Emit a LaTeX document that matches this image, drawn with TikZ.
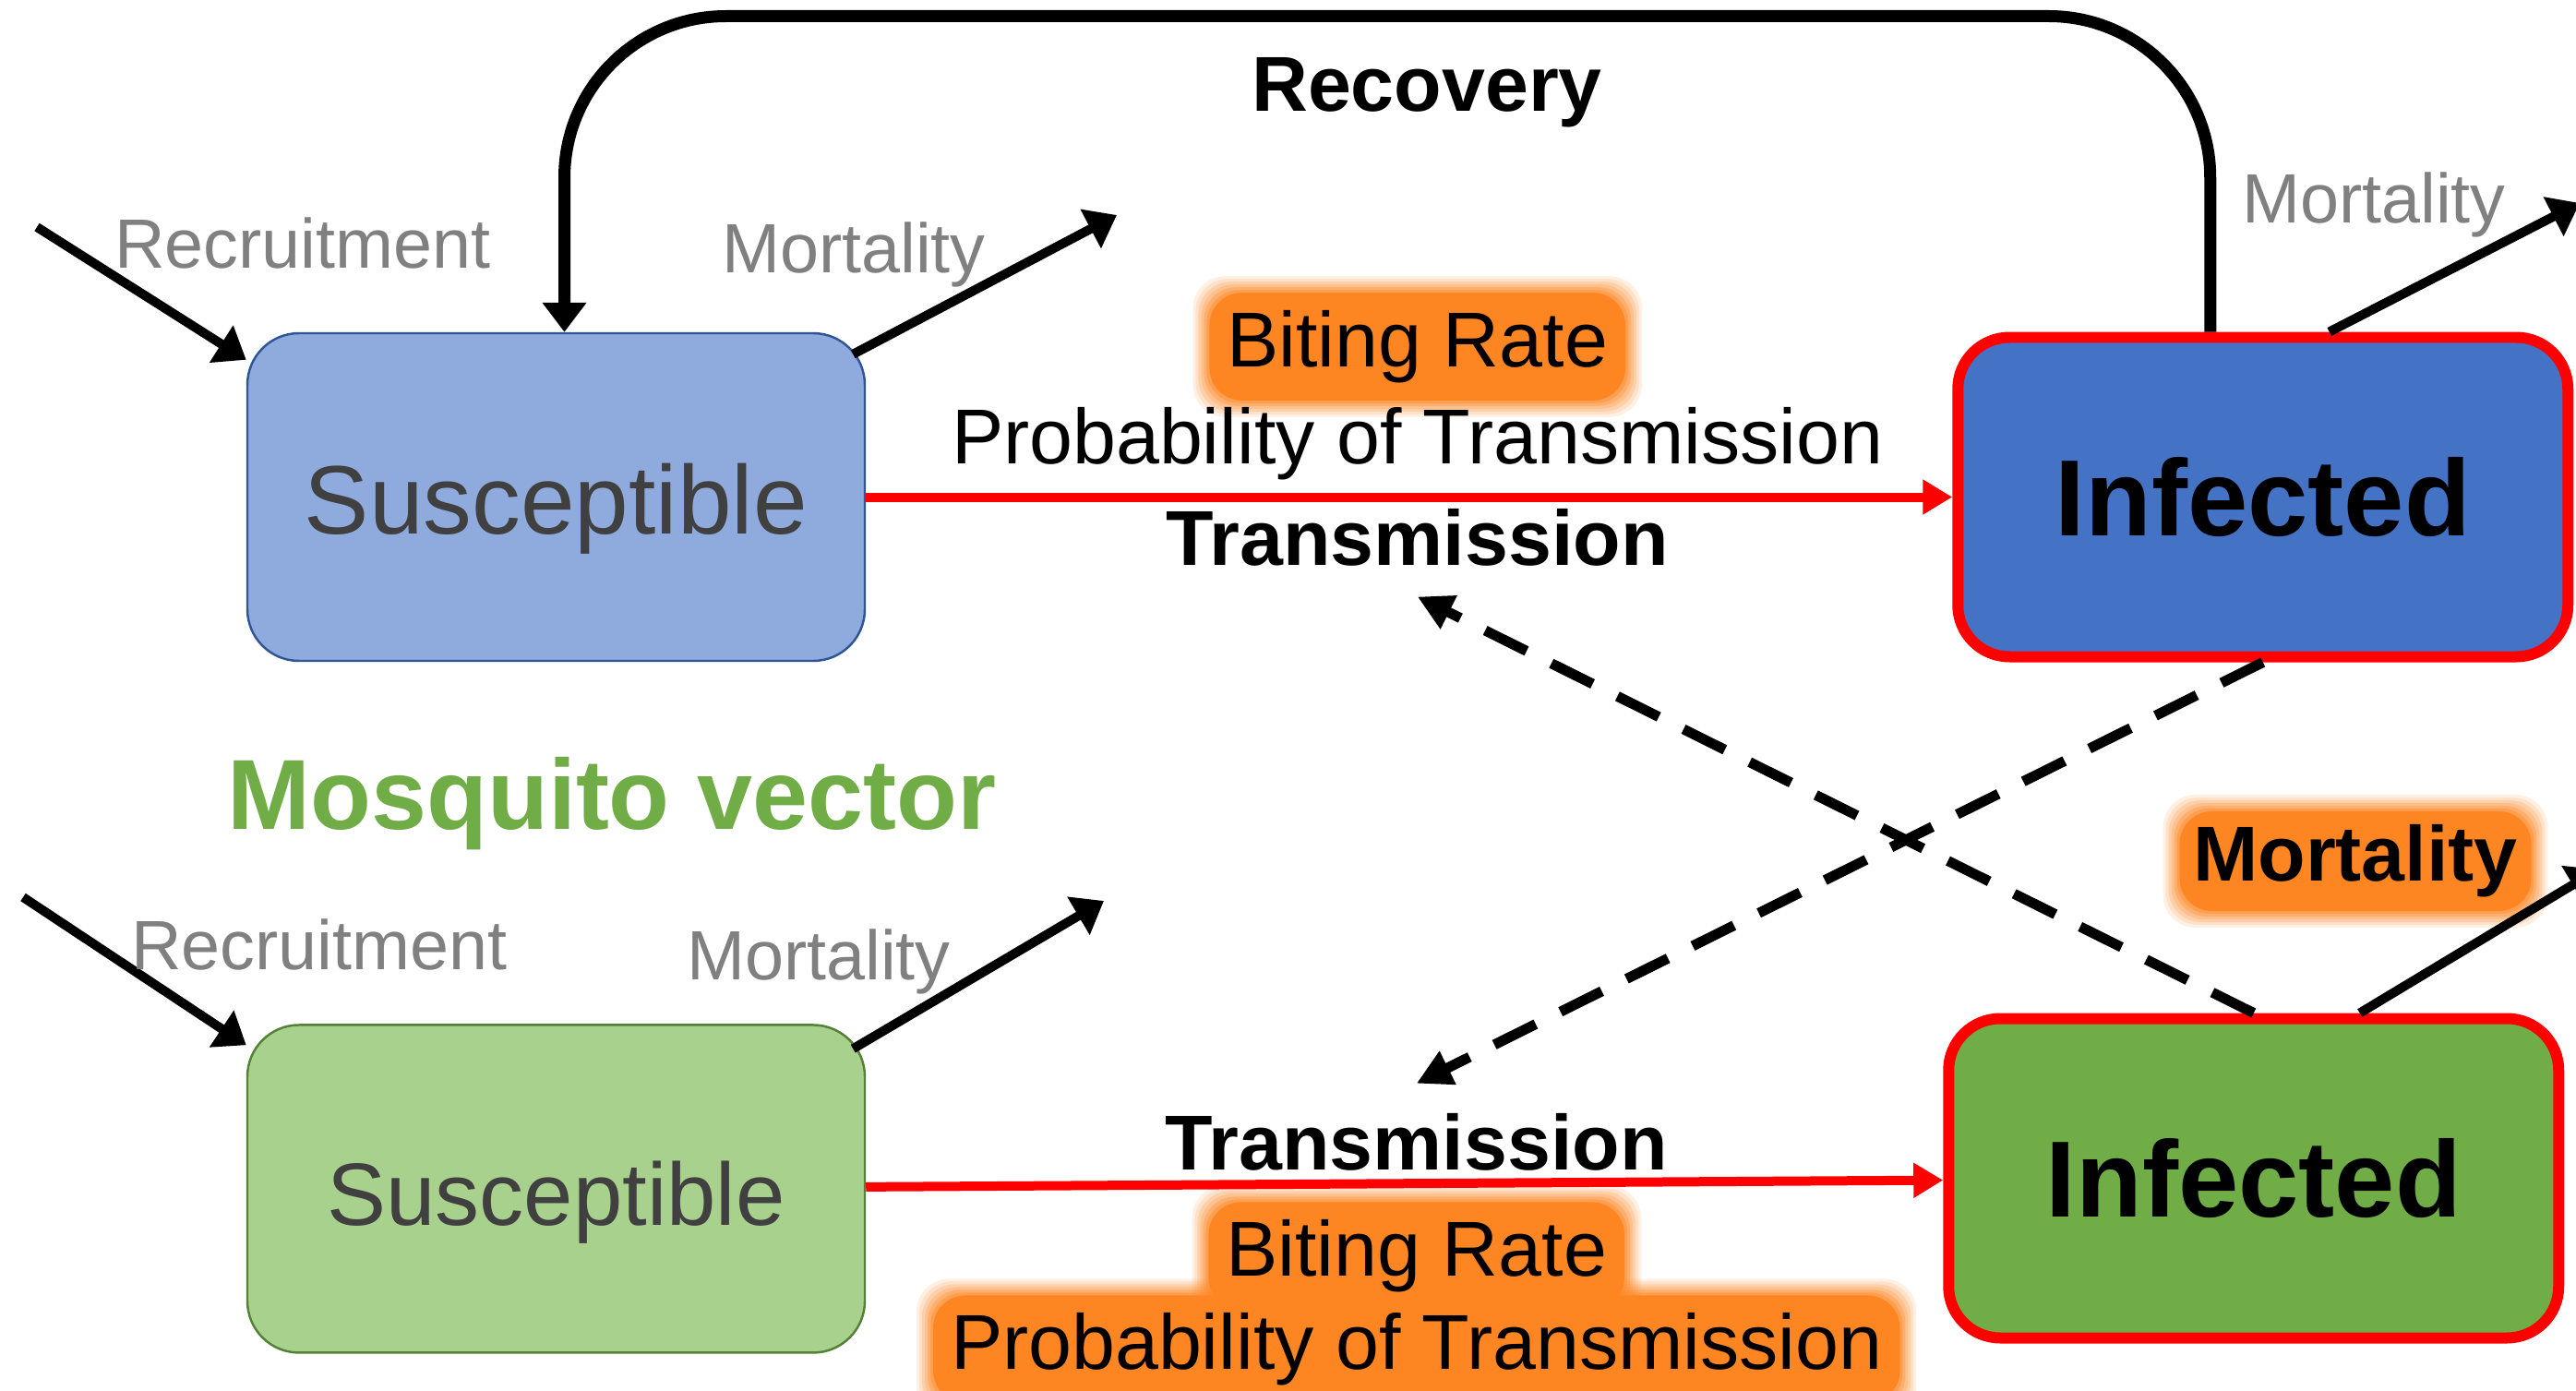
\documentclass[tikz,border=0pt]{standalone}
\usepackage{fontspec}
\setmainfont{Liberation Sans}
\usepackage{xcolor}
\usepackage{tikz}
\usetikzlibrary{positioning}
\usetikzlibrary{arrows.meta}
\usetikzlibrary{backgrounds}
\definecolor{hostlight}{HTML}{8FAADC}
\definecolor{hostdark}{HTML}{4472C4}
\definecolor{hostline}{HTML}{2F5597}
\definecolor{veclight}{HTML}{A9D18E}
\definecolor{vecdark}{HTML}{70AD47}
\definecolor{vecline}{HTML}{548235}
\definecolor{glowc}{RGB}{253,134,35}
\definecolor{txtgray}{RGB}{128,128,128}
\definecolor{txtdark}{RGB}{64,64,64}
\tikzset{	node distance=3.9cm,
	box/.style={
		rectangle,
		rounded corners=0.56cm},
	susc/.style={
		box, draw,
		line width=0.7pt,
		minimum width=6.69cm,
		minimum height=3.55cm,
		text height=28.9pt,
		text depth=6.3pt,
		text=txtdark,
		font=\fontsize{30}{36}\selectfont},
	infd/.style={
		box, draw=red,
		line width=0.12cm,
		minimum width=6.61cm,
		minimum height=3.46cm,
		font=\fontsize{33.4}{40}\selectfont\bfseries},
	lbl/.style={inner sep=0.28cm, font=\fontsize{24}{29}\selectfont},
	lblb/.style={lbl, font=\fontsize{24}{29}\selectfont\bfseries},
	rate/.style={text=txtgray, font=\fontsize{21.5}{26}\selectfont},
	flow/.style={
		draw,
		line width=0.1cm,
		-{Triangle[length=0.32cm, width=0.46cm]}},
	trans/.style={
		draw=red,
		line width=0.1cm,
		-{Triangle[length=0.32cm, width=0.36cm]}},
	cross/.style={
		draw,
		line width=0.11cm,
		dash pattern=on 0.5cm off 0.3cm,
		-{Triangle[length=0.38cm, width=0.38cm]}}
}
\newcommand{\glow}[1]{%
	\begin{scope}[on background layer]
		\foreach \gm/\ga in {-0.04/0.12,-0.01/0.15,0.02/0.18,0.05/0.22,0.08/0.3,0.11/0.4,0.14/1}
			\fill[glowc, fill opacity=\ga, rounded corners=0.35cm]
				([shift={(\gm,\gm)}]#1.south west) rectangle ([shift={(-\gm,-\gm)}]#1.north east);
	\end{scope}}

\begin{document}
\begin{tikzpicture}
				\useasboundingbox (0,0) rectangle (27.91,-15.07);
				% host
				\node[susc, fill=hostlight, draw=hostline] (hs) at (6.025,-5.385) {Susceptible};
				\node[infd, fill=hostdark, right=11.77cm of hs] (hi) {Infected};
				% vector
				\node[susc, fill=veclight, draw=vecline, below=3.92cm of hs,
					font=\fontsize{27.3}{33}\selectfont] (vs) {Susceptible};
				\node[infd, fill=vecdark, below=3.8cm of hi, xshift=-0.1cm] (vi) {Infected};
				\node[text=vecdark, font=\fontsize{30.7}{37}\selectfont\bfseries] (mv) at (6.63,-8.71) {Mosquito vector};

				\draw (hs) edge[trans]
					node[lblb, xshift=0.09cm, yshift=-0.44cm] (htr) {Transmission}
					node[lbl, xshift=0.09cm, yshift=0.58cm] (hprob) {Probability of Transmission}
					node[lbl, xshift=0.09cm, yshift=1.63cm] (hbite) {Biting Rate} (hi);
				\draw (vs) edge[trans]
					node[lblb, xshift=0.13cm, yshift=0.445cm] (vtr) {Transmission}
					node[lbl, xshift=0.13cm, yshift=-0.785cm] (vbite) {Biting Rate}
					node[lbl, xshift=0.13cm, yshift=-1.795cm] (vprob) {Probability of Transmission} (vi);
				\glow{hbite}
				\glow{vbite}
				\glow{vprob}

				\draw[flow, line width=0.13cm, rounded corners=1.75cm]
					([xshift=-0.57cm]hi.north) -- ++(0,3.42) -| ([xshift=0.09cm]hs.north);
				\node[lblb, inner sep=0pt] (rec) at (15.46,-1.0) {Recovery};

				\coordinate (hin) at (0.4,-2.46);
				\coordinate (hout) at (12.1,-2.33);
				\coordinate (hiout) at (27.95,-2.2);
				\coordinate (vin) at (0.25,-9.72);
				\coordinate (vout) at (11.96,-9.76);
				\coordinate (viout) at (28.15,-9.42);
				\draw[flow] (hin) -- ([yshift=-0.3cm]hs.north west);
				\draw[flow] ([xshift=-0.14cm,yshift=-0.24cm]hs.north east) -- (hout);
				\draw[flow] ([xshift=0.72cm]hi.north) -- (hiout);
				\draw[flow] (vin) -- ([yshift=-0.23cm]vs.north west);
				\draw[flow] ([xshift=-0.14cm,yshift=-0.27cm]vs.north east) -- (vout);
				\draw[flow] ([xshift=1.15cm]vi.north) -- (viout);

				\node[rate] (hrecr) at (3.28,-2.63) {Recruitment};
				\node[rate] (hmort) at (9.25,-2.76) {Mortality};
				\node[rate] (himort) at (25.72,-2.22) {Mortality};
				\node[rate] (vrecr) at (3.46,-10.23) {Recruitment};
				\node[rate] (vmort) at (8.87,-10.42) {Mortality};
				\node[lblb] (vimort) at (25.52,-9.33) {Mortality};
				\glow{vimort}

				\draw[cross] (hi.south) -- (vtr.north);
				\draw[cross] (vi.north) -- (htr.south);
			\end{tikzpicture}
\end{document}
